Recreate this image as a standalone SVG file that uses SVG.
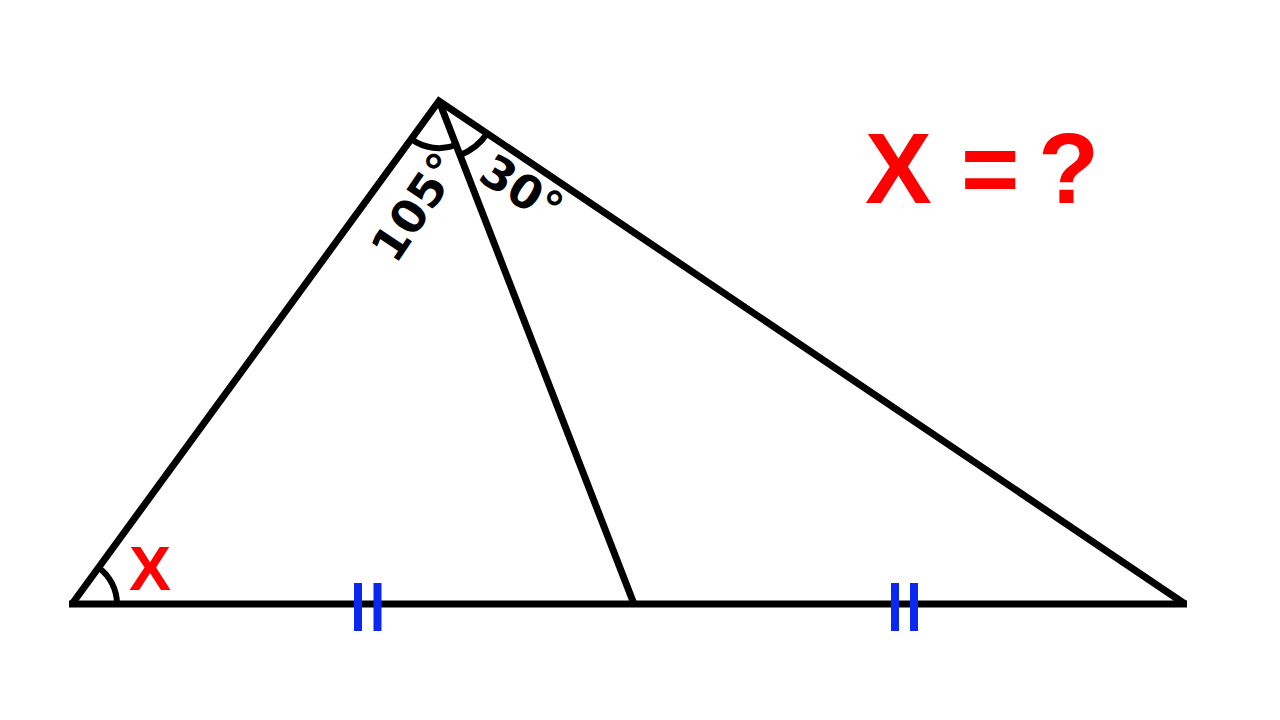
<svg xmlns="http://www.w3.org/2000/svg" width="1280" height="720" viewBox="0 0 1280 720">
<style>
.edge{fill:none;stroke:#000;stroke-width:7;stroke-linejoin:miter}
.arc{fill:none;stroke:#000;stroke-width:6}
.tick{stroke:#0a28f0;stroke-width:8}
.ang{font-family:"DejaVu Sans",sans-serif;font-weight:bold;font-size:46px;fill:#000}
.red{font-family:"Liberation Sans",Arial,sans-serif;font-weight:bold;fill:#ff0000}
</style>
<rect width="1280" height="720" fill="#fff"/>
<g id="connectors">
<path class="edge" d="M72,604 L439,101 L1185,604"/>
<path class="edge" d="M69,604 L1187,604"/>
<path class="edge" d="M439,101 L634,604"/>
</g>
<g id="angle-A">
<path class="arc" d="M456,145 A47,47 0 0 1 411.3,139"/>
<path class="arc" d="M487.1,133.5 A58,58 0 0 1 460,155.1"/>
<text class="ang" text-anchor="middle" transform="translate(429,216) rotate(-56)">105°</text>
<text class="ang" text-anchor="middle" transform="translate(513,203) rotate(33)">30°</text>
</g>
<g id="angle-B">
<path class="arc" d="M98.5,567.6 A45,45 0 0 1 117,604"/>
<text class="red" x="129" y="590" font-size="63">X</text>
</g>
<g id="ticks">
<line class="tick" x1="358" y1="583" x2="358" y2="631"/>
<line class="tick" x1="377.5" y1="583" x2="377.5" y2="631"/>
<line class="tick" x1="895" y1="583" x2="895" y2="631"/>
<line class="tick" x1="914" y1="583" x2="914" y2="631"/>
</g>
<g id="title">
<text class="red" font-size="100" x="865 932 961 1018 1038" y="203">X = ?</text>
</g>
</svg>
